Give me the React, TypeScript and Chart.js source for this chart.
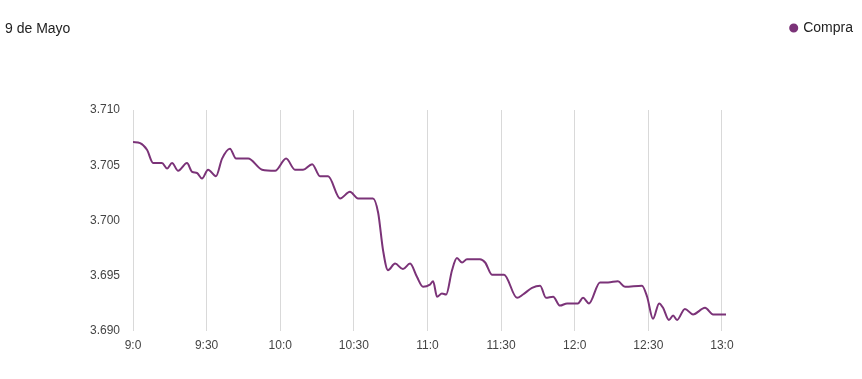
import { useEffect, useRef } from 'react';
import { Chart, registerables } from 'chart.js';

Chart.register(...registerables);

const chartTitle = '9 de Mayo';
const seriesName = 'Compra';
const timeTicks = ['9:0', '9:30', '10:0', '10:30', '11:0', '11:30', '12:0', '12:30', '13:0'];

// minutes after 9:00
const minutes = [
  0, 2.9, 5.7, 8.2, 11.8, 13.9, 15.9, 18.4, 22.0, 24.1, 26.1, 28.1, 30.6, 33.8, 36.3, 39.5, 42.0, 46.9,
  52.6, 57.9, 62.4, 66.0, 69.3, 73.0, 76.2, 79.5, 84.4, 88.4, 91.7, 97.8, 99.9, 101.9, 103.9, 106.8,
  110.0, 112.9, 115.7, 118.2, 121.0, 122.3, 123.9, 125.9, 127.6, 130.0, 132.0, 134.1, 136.1, 141.4,
  143.5, 146.3, 151.2, 156.5, 158.9, 162.6, 165.9, 168.3, 171.2, 174.0, 176.9, 181.3, 183.4, 185.8,
  190.3, 193.6, 197.6, 200.5, 207.4, 209.5, 211.9, 214.4, 216.0, 218.4, 220.1, 221.7, 224.9, 228.2,
  233.1, 236.4, 241.65,
];

const compra = [
  3.7071, 3.7070, 3.7064, 3.7052, 3.7052, 3.7047, 3.7052, 3.7045, 3.7052, 3.7044, 3.7043, 3.7038,
  3.7046, 3.7040, 3.7056, 3.7065, 3.7056, 3.7056, 3.7046, 3.7045, 3.7056, 3.7046, 3.7046, 3.7051,
  3.7040, 3.7040, 3.7020, 3.7026, 3.7020, 3.7020, 3.7007, 3.6973, 3.6955, 3.6961, 3.6956, 3.6961,
  3.6949, 3.6940, 3.6942, 3.6945, 3.6931, 3.6934, 3.6933, 3.6955, 3.6966, 3.6962, 3.6965, 3.6965,
  3.6962, 3.6951, 3.6951, 3.6930, 3.6933, 3.6939, 3.6941, 3.6930, 3.6931, 3.6923, 3.6925, 3.6925,
  3.6930, 3.6925, 3.6944, 3.6944, 3.6945, 3.6940, 3.6941, 3.6931, 3.6911, 3.6925, 3.6921, 3.6910,
  3.6914, 3.6910, 3.6920, 3.6915, 3.6921, 3.6915, 3.6915,
];

const yMin = 3.69;
const yMax = 3.71;
const yStep = 0.005;
const xStep = 30;

const purple = '#7b3378';
const fontFamily = "Arial, 'Liberation Sans', sans-serif";

export default function App() {
  const ref = useRef<HTMLCanvasElement>(null);

  useEffect(() => {
    if (!ref.current) return;
    const legendSpacer = {
      id: 'legendSpacer',
      beforeInit(chart: any) {
        const legend = chart.legend;
        if (!legend) return;
        const orig = legend.fit;
        legend.fit = function () {
          orig.call(this);
          this.height += 65;
        };
      },
    };
    const chart = new Chart(ref.current, {
      type: 'line',
      data: {
        datasets: [
          {
            label: seriesName,
            data: minutes.map((m, i) => ({ x: m, y: compra[i] })),
            borderColor: purple,
            backgroundColor: purple,
            borderWidth: 2,
            pointRadius: 0,
            pointHoverRadius: 0,
            cubicInterpolationMode: 'monotone',
            fill: false,
          },
        ],
      },
      options: {
        responsive: true,
        maintainAspectRatio: false,
        animation: false,
        layout: { padding: { top: 15, right: 3, left: 0, bottom: 0 } },
        plugins: {
          legend: {
            display: true,
            position: 'top',
            align: 'end',
            labels: {
              usePointStyle: true,
              pointStyle: 'circle',
              boxWidth: 5,
              boxHeight: 5,
              padding: 6,
              color: '#222',
              font: { family: fontFamily, size: 14 },
            },
          },
          title: { display: false },
          tooltip: { enabled: false },
        },
        scales: {
          x: {
            type: 'linear',
            min: 0,
            max: 241.65,
            grid: { display: true, color: '#d9d9d9', drawTicks: false },
            border: { display: false },
            ticks: {
              stepSize: xStep,
              includeBounds: false,
              autoSkip: false,
              maxRotation: 0,
              padding: 7,
              color: '#444',
              font: { family: fontFamily, size: 12 },
              callback: (v: any) => timeTicks[Math.round(Number(v) / xStep)] ?? '',
            },
            afterFit: (s: any) => {
              s.height = 48;
            },
          },
          y: {
            min: yMin,
            max: yMax,
            grid: { display: false, drawTicks: false },
            border: { display: false },
            ticks: {
              stepSize: yStep,
              padding: 13,
              color: '#444',
              font: { family: fontFamily, size: 12 },
              callback: (v: any) => Number(v).toFixed(3),
            },
            afterFit: (s: any) => {
              s.width = 133;
            },
          },
          yr: {
            position: 'right',
            display: true,
            grid: { display: false, drawTicks: false },
            border: { display: false },
            ticks: { display: false },
            afterFit: (s: any) => {
              s.width = 133;
            },
          },
        },
      },
      plugins: [legendSpacer],
    } as any);
    return () => chart.destroy();
  }, []);

  return (
    <div style={{ position: 'absolute', left: 0, top: 0, width: 862, height: 379 }}>
      <div
        style={{
          position: 'absolute',
          left: 5,
          top: 20,
          fontFamily,
          fontSize: 14,
          lineHeight: '16px',
          color: '#222',
        }}
      >
        {chartTitle}
      </div>
      <canvas ref={ref} />
    </div>
  );
}
